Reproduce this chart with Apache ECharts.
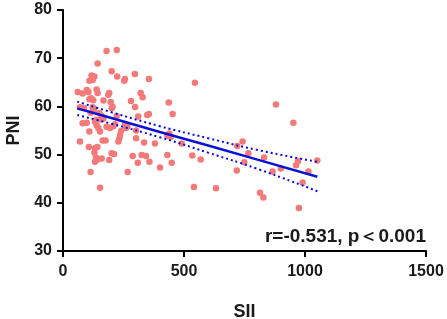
<!DOCTYPE html>
<html>
<head>
<meta charset="utf-8">
<script src="https://cdn.jsdelivr.net/npm/echarts@6/dist/echarts.min.js"></script>
<style>
  html, body { margin: 0; padding: 0; background: #fff; }
  #chart { width: 447px; height: 319px; }
</style>
</head>
<body>
<div id="chart"></div>
<script>
// SII vs PNI 散点
const points = [
  [180,71.5],[222,71.7],[143,68.9],[201,67.3],[297,66.7],[224,66.2],[256,65.7],[253,65.3],[355,65.7],
  [118,66.4],[130,66.2],[109,65.3],[123,65.5],[545,64.9],[61,63],[81,62.7],[98,63.4],[105,63],
  [139,63.5],[143,62.8],[191,62.8],[187,62.4],[321,62.8],[329,61.9],[116,61.7],[125,61.3],[109,61.5],
  [167,61.2],[197,60.9],[205,59.9],[201,59.6],[281,61.1],[298,59.9],[437,60.8],[70,59.8],[87,59.6],
  [123,59.8],[128,59.4],[114,58.7],[150,58.6],[160,58.0],[167,57.5],[156,57.3],[453,58.4],[348,58.2],
  [355,58.4],[311,57.9],[222,58],[256,56.3],[266,55.9],[260,55.5],[81,56.5],[98,56.6],[132,56.8],
  [139,56.1],[146,55.5],[136,57.2],[180,55.8],[194,55.5],[208,55.9],[215,56.3],[109,54.8],[153,54.8],
  [240,54.9],[236,54.1],[233,53.4],[229,52.7],[302,55.0],[302,53.4],[439,54.4],[431,53.9],[445,53.7],
  [490,52.3],[70,52.7],[107,51.6],[132,51.3],[142,51.6],[164,52.9],[176,52.9],[201,50.3],[211,50.1],
  [380,52.3],[335,52.5],[130,50.4],[136,49.4],[132,48.5],[142,49.0],[160,49.2],[191,48.9],[288,49.7],
  [325,49.9],[343,49.7],[357,48.5],[309,48.3],[431,49.9],[449,48.3],[401,47.3],[534,49.8],[569,49.0],
  [720,51.8],[742,52.7],[766,50.3],[749,48.4],[718,46.7],[114,46.4],[267,46.4],[153,43.1],[541,43.3],
  [632,43.0],[880,60.4],[952,56.6],[831,49.4],[866,46.5],[900,47.1],[814,42.1],[828,41.1],
  [963,47.8],[971,48.6],[1051,48.8],[1014,46.5],[990,44.2],[975,38.9]
]

// 回归线 + 95% 置信带
const fitX = [59, 200, 400, 600, 800, 1051]
const fitY = [59.6, 57.6, 54.7, 51.9, 49.0, 45.4]
const upperY = [61.0, 58.8, 55.9, 53.4, 51.0, 48.5]
const lowerY = [58.2, 56.4, 53.6, 50.4, 47.1, 42.4]

const xTicks = { min: 0, max: 1500, interval: 500 }
const yTicks = { min: 30, max: 80, interval: 10 }
const statText = 'r=-0.531, p＜0.001'

const font = 'Arial, "Liberation Sans", sans-serif'
const pair = (ys) => fitX.map((x, i) => [x, ys[i]])

const chart = echarts.init(document.getElementById('chart'))

const axisCommon = {
  type: 'value',
  splitLine: { show: false },
  axisLine: { show: true, lineStyle: { color: '#000', width: 2 } },
  axisTick: { show: true, length: 6, lineStyle: { color: '#000', width: 2 } },
  axisLabel: { color: '#1a1a1a', fontWeight: 'bold', fontSize: 16, fontFamily: font, formatter: (v) => String(v) },
  nameLocation: 'middle',
  nameTextStyle: { color: '#1a1a1a', fontWeight: 'bold', fontSize: 18, fontFamily: font }
}

chart.setOption({
  animation: false,
  grid: { left: 63, right: 21, top: 10, bottom: 68, containLabel: false, outerBoundsMode: 'none' },
  xAxis: {
    ...axisCommon,
    ...xTicks,
    name: 'SII',
    nameGap: 52,
    axisLabel: { ...axisCommon.axisLabel, margin: 13 }
  },
  yAxis: {
    ...axisCommon,
    ...yTicks,
    name: 'PNI',
    nameGap: 40,
    axisLabel: { ...axisCommon.axisLabel, margin: 11 }
  },
  series: [
    {
      type: 'scatter',
      data: points,
      symbolSize: 6.5,
      itemStyle: { color: '#f47a7a', opacity: 1 },
      z: 2
    },
    {
      type: 'line',
      data: pair(upperY),
      smooth: true,
      showSymbol: false,
      lineStyle: { color: '#0a0ae6', width: 2, type: [2, 3] },
      z: 3
    },
    {
      type: 'line',
      data: pair(lowerY),
      smooth: true,
      showSymbol: false,
      lineStyle: { color: '#0a0ae6', width: 2, type: [2, 3] },
      z: 3
    },
    {
      type: 'line',
      data: pair(fitY),
      showSymbol: false,
      lineStyle: { color: '#0a12d8', width: 2.5 },
      z: 4
    }
  ],
  graphic: [
    {
      type: 'text',
      right: 21,
      top: 227,
      style: {
        text: statText,
        fill: '#1a1a1a',
        font: 'bold 19px ' + font
      }
    }
  ]
})
</script>
</body>
</html>
